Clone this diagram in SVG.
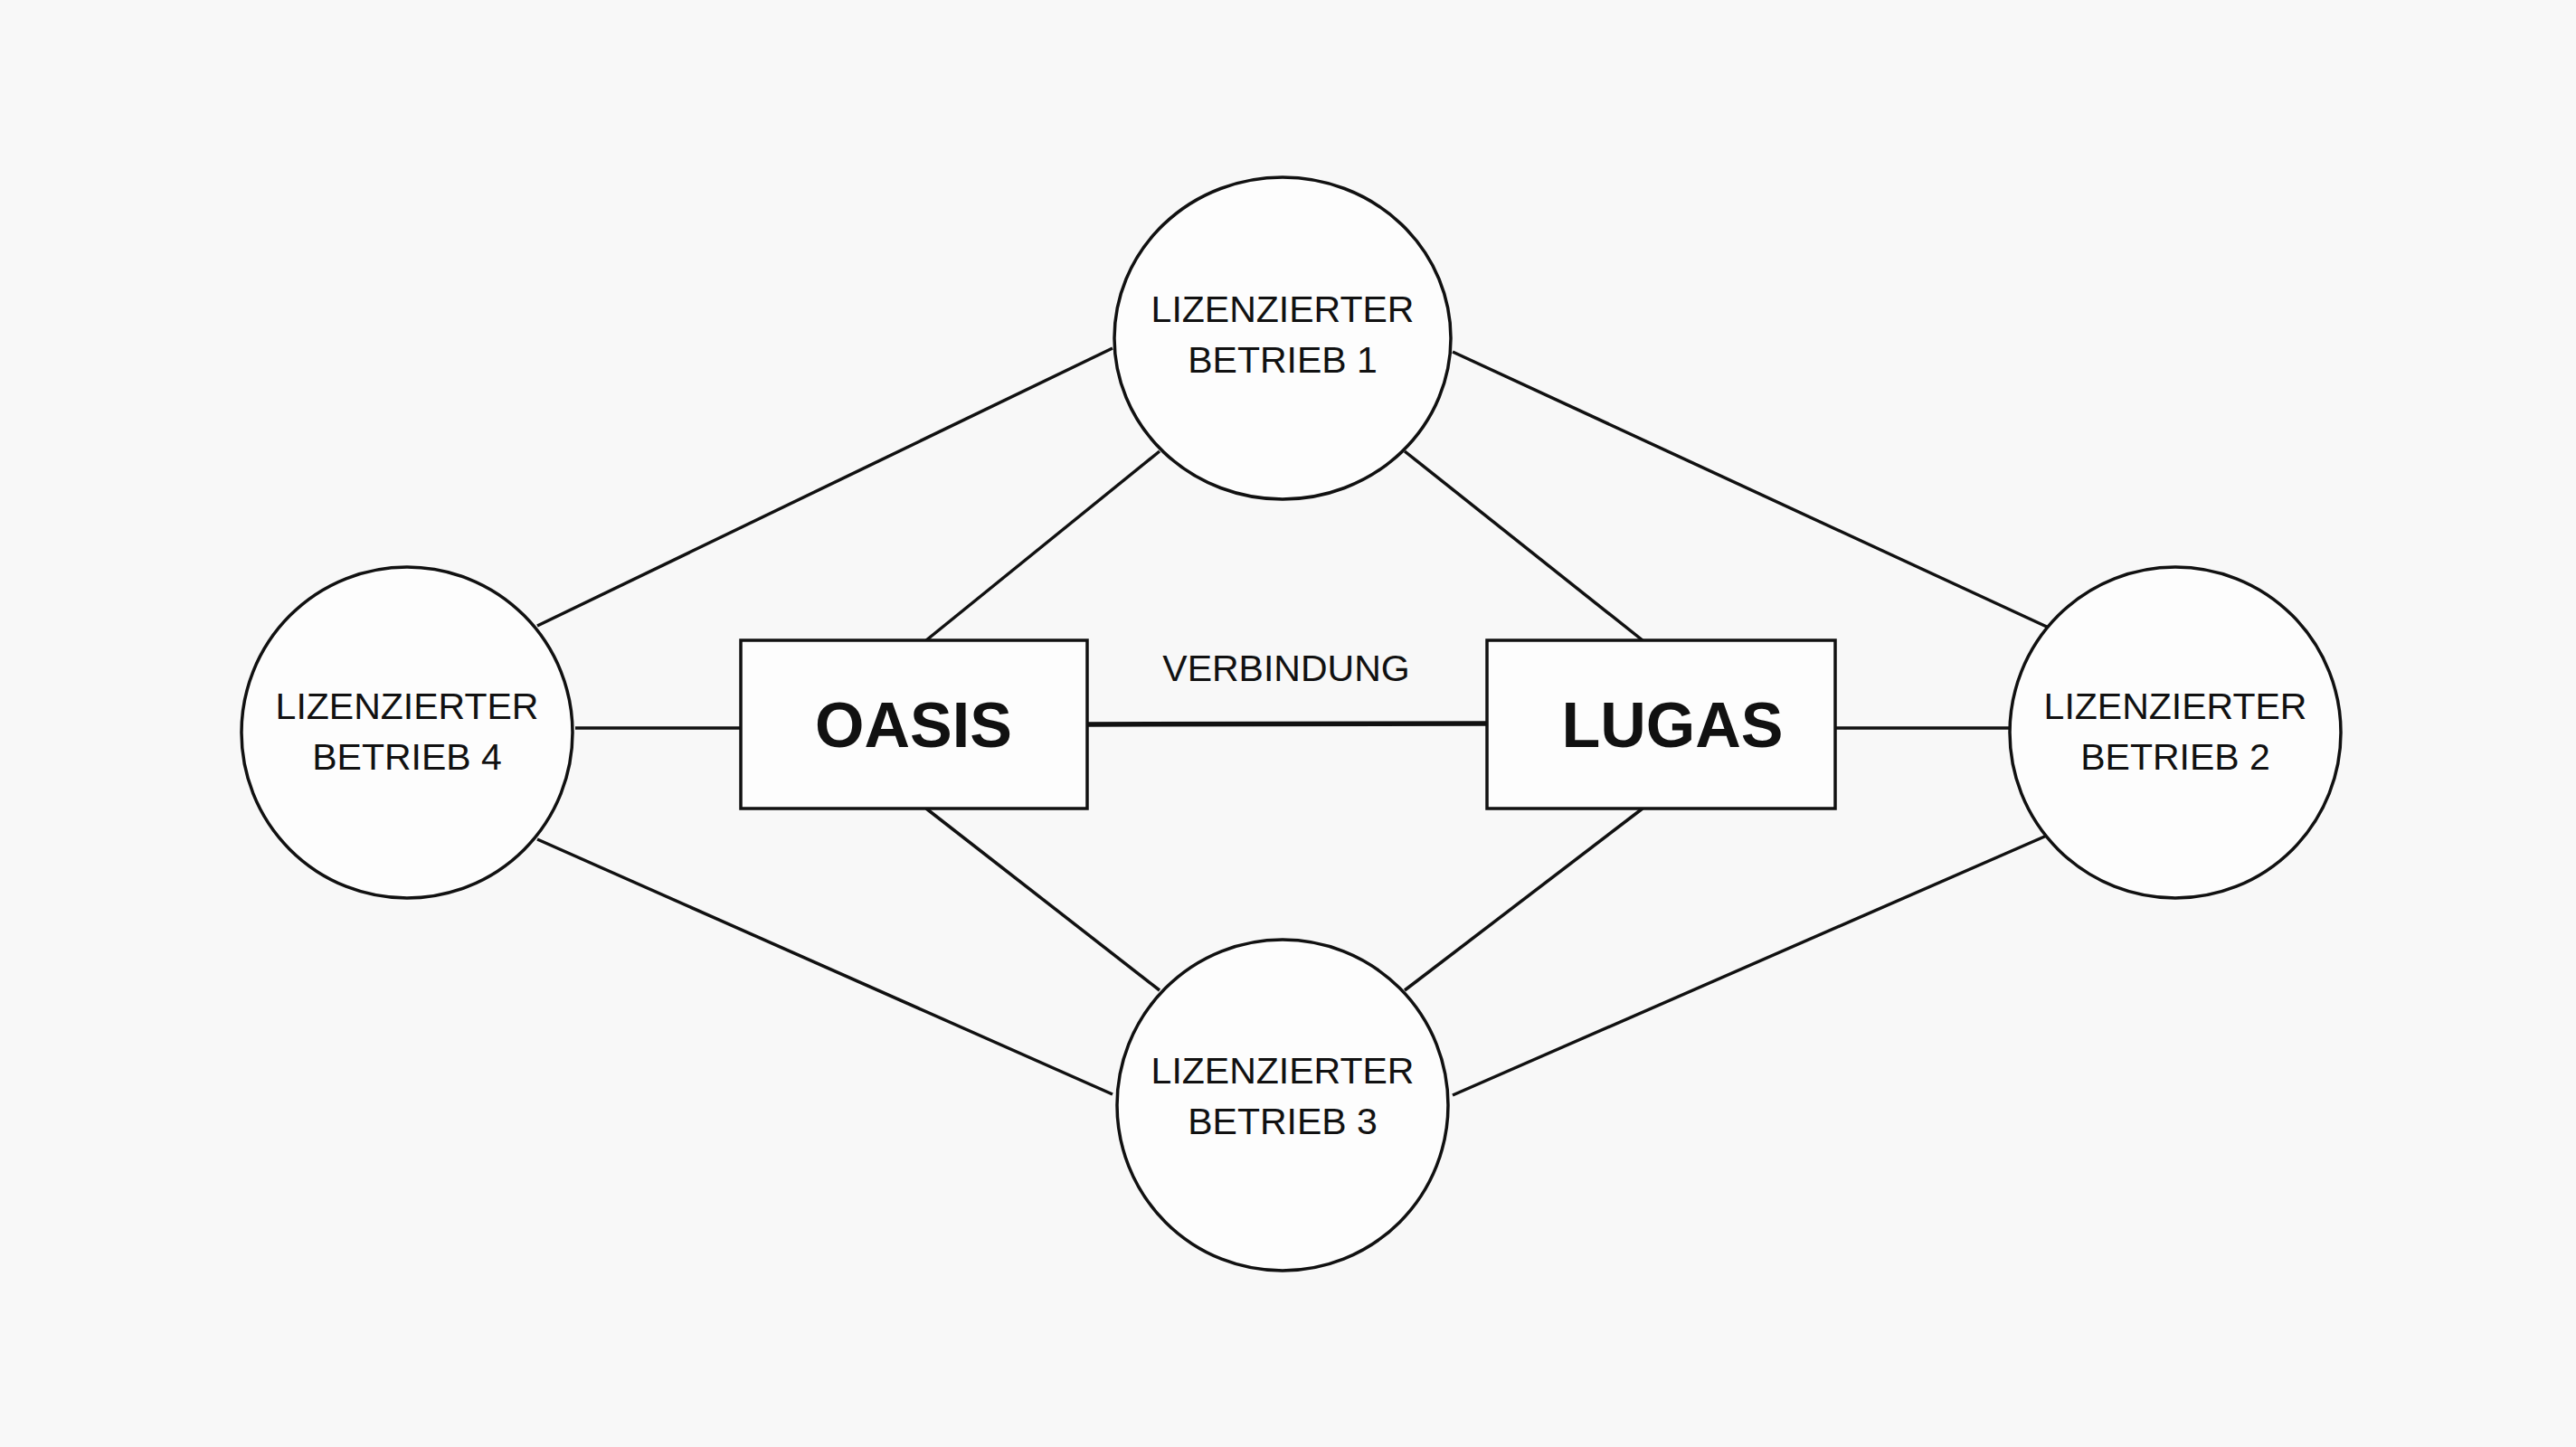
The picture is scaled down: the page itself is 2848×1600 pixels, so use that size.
<svg xmlns="http://www.w3.org/2000/svg" width="2848" height="1600" viewBox="0 0 2848 1600">
<style>
.c{fill:#fdfdfd;stroke:#111;stroke-width:3.5}
.b{fill:#fdfdfd;stroke:#111;stroke-width:3.5}
.l{stroke:#111;stroke-width:3.5;fill:none}
.t{font-family:"Liberation Sans",Arial,sans-serif;font-size:41px;text-anchor:middle;fill:#111}
.bt{font-family:"Liberation Sans",Arial,sans-serif;font-size:70px;font-weight:bold;text-anchor:middle;fill:#111}
</style>
<rect width="2848" height="1600" fill="#f8f8f8"/>
<g id="connectors">
<line class="l" x1="594" y1="692" x2="1230" y2="385"/>
<line class="l" x1="1606" y1="389" x2="2265" y2="694"/>
<line class="l" x1="594" y1="928" x2="1230" y2="1210"/>
<line class="l" x1="1606" y1="1211" x2="2265" y2="923"/>
<line class="l" x1="1282" y1="499" x2="1024" y2="708"/>
<line class="l" x1="1553" y1="499" x2="1816" y2="708"/>
<line class="l" x1="1024" y1="894" x2="1282" y2="1095"/>
<line class="l" x1="1816" y1="894" x2="1553" y2="1095"/>
<line class="l" x1="636" y1="805" x2="819" y2="805"/>
<line class="l" x1="2029" y1="805" x2="2223" y2="805"/>
<line class="l" style="stroke-width:5.5" x1="1202" y1="801" x2="1644" y2="800"/>
<text class="t" x="1422" y="753">VERBINDUNG</text>
</g>
<g id="betrieb1"><ellipse class="c" cx="1418" cy="374" rx="186" ry="178"/><text class="t" x="1418" y="356">LIZENZIERTER</text><text class="t" x="1418" y="412">BETRIEB 1</text></g>
<g id="betrieb2"><circle class="c" cx="2405" cy="810" r="183"/><text class="t" x="2405" y="795">LIZENZIERTER</text><text class="t" x="2405" y="851">BETRIEB 2</text></g>
<g id="betrieb3"><circle class="c" cx="1418" cy="1222" r="183"/><text class="t" x="1418" y="1198">LIZENZIERTER</text><text class="t" x="1418" y="1254">BETRIEB 3</text></g>
<g id="betrieb4"><circle class="c" cx="450" cy="810" r="183"/><text class="t" x="450" y="795">LIZENZIERTER</text><text class="t" x="450" y="851">BETRIEB 4</text></g>
<g id="oasis"><rect class="b" x="819" y="708" width="383" height="186"/><text class="bt" x="1010" y="826">OASIS</text></g>
<g id="lugas"><rect class="b" x="1644" y="708" width="385" height="186"/><text class="bt" x="1849" y="826">LUGAS</text></g>
</svg>
